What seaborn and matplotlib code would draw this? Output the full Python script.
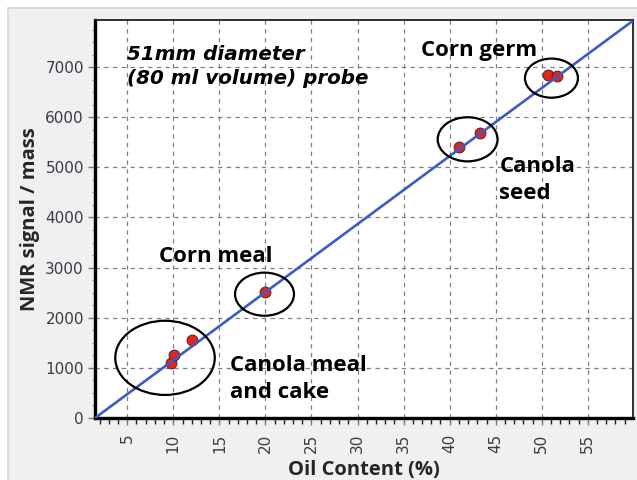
import matplotlib
matplotlib.use("Agg")
import matplotlib.pyplot as plt
from matplotlib.patches import Ellipse, Rectangle
from matplotlib.ticker import MultipleLocator
import pandas as pd
import seaborn as sns

# Calibration samples (oil content %, NMR signal per mass)
sample_oil = [9.8, 10.1, 12.0, 20.0, 41.0, 43.3, 50.7, 51.6]
sample_signal = [1100, 1250, 1560, 2510, 5410, 5690, 6850, 6820]
sample_group = ["Canola meal", "Canola meal", "Canola meal", "Corn meal",
                "Canola seed", "Canola seed", "Corn germ", "Corn germ"]

# Calibration line end points
fit_oil = [1.5, 60.0]
fit_signal = [0, 7940]

x_ticks = [5, 10, 15, 20, 25, 30, 35, 40, 45, 50, 55]
y_ticks = [0, 1000, 2000, 3000, 4000, 5000, 6000, 7000]


def main() -> None:
    sns.set_style("ticks")
    plt.rcParams["font.family"] = ["Open Sans", "DejaVu Sans"]

    samples = pd.DataFrame({"oil": sample_oil, "signal": sample_signal, "group": sample_group})
    fit = pd.DataFrame({"oil": fit_oil, "signal": fit_signal})

    fig = plt.figure(figsize=(6.37, 4.8), dpi=100, facecolor="white")
    fig.patches.append(Rectangle((8 / 637, -0.01), 1.0, 1 - 8 / 480 + 0.01,
                                 transform=fig.transFigure, facecolor="#f0f0f0",
                                 edgecolor="#d4d4d4", linewidth=1.2, zorder=-10))
    ax = fig.add_axes([95 / 637, 62 / 480, 538 / 637, 398 / 480])
    ax.set_facecolor("white")

    sns.scatterplot(data=samples, x="oil", y="signal", ax=ax, color="#e8231e",
                    edgecolor="#5a2a2a", linewidth=0.8, s=60, zorder=3, legend=False)
    sns.lineplot(data=fit, x="oil", y="signal", ax=ax, color="#3c5cc4",
                 linewidth=1.9, zorder=4)

    ax.set_xlim(1.5, 59.9)
    ax.set_ylim(0, 7940)
    ax.set_xticks(x_ticks)
    ax.set_yticks(y_ticks)
    ax.xaxis.set_minor_locator(MultipleLocator(1))
    ax.yaxis.set_minor_locator(MultipleLocator(250))
    ax.grid(True, which="major", linestyle=(0, (3.5, 3.5)), color="#808080", linewidth=0.9)
    ax.set_axisbelow(True)

    tick_font = {"family": "DejaVu Sans", "size": 11, "color": "#3a3a4a"}
    ax.set_xticklabels([str(v) for v in x_ticks], rotation=90, **tick_font)
    ax.set_yticklabels([str(v) for v in y_ticks], **tick_font)
    ax.tick_params(axis="both", which="major", length=5, width=1, color="#777777", pad=3)
    ax.tick_params(axis="x", which="major", pad=6)
    ax.tick_params(axis="x", which="minor", length=4, width=1, color="#222222")
    ax.tick_params(axis="y", which="minor", length=2, width=1, color="#999999")

    for side in ["left", "bottom"]:
        ax.spines[side].set_linewidth(2.4)
        ax.spines[side].set_color("black")
    for side in ["top", "right"]:
        ax.spines[side].set_linewidth(1.3)
        ax.spines[side].set_color("#202020")

    ax.set_xlabel("Oil Content (%)", fontsize=14.5, fontweight="bold", labelpad=5)
    ax.set_ylabel("NMR signal / mass", fontsize=14.5, fontweight="bold", labelpad=4)

    # Circles round each sample group
    for cx, cy, w, h in [(9.1, 1200, 10.8, 1480), (19.9, 2470, 6.4, 860),
                         (41.95, 5560, 6.5, 880), (51.05, 6780, 5.75, 780)]:
        ax.add_patch(Ellipse((cx, cy), w, h, fill=False, edgecolor="black",
                             linewidth=1.6, zorder=5))

    label_kw = {"fontsize": 16, "fontweight": "bold", "color": "black", "va": "top",
                "linespacing": 1.38}
    ax.text(5.0, 7440, "51mm diameter\n(80 ml volume) probe", style="italic",
            **{**label_kw, "fontsize": 14.3, "linespacing": 1.3,
               "family": "DejaVu Sans"})
    ax.text(36.9, 7540, "Corn germ", **label_kw)
    ax.text(45.4, 5220, "Canola\nseed", **label_kw)
    ax.text(8.4, 3440, "Corn meal", **label_kw)
    ax.text(16.1, 1260, "Canola meal\nand cake", **label_kw)

    fig.savefig("out.png", dpi=100)
    plt.close(fig)


if __name__ == "__main__":
    main()
